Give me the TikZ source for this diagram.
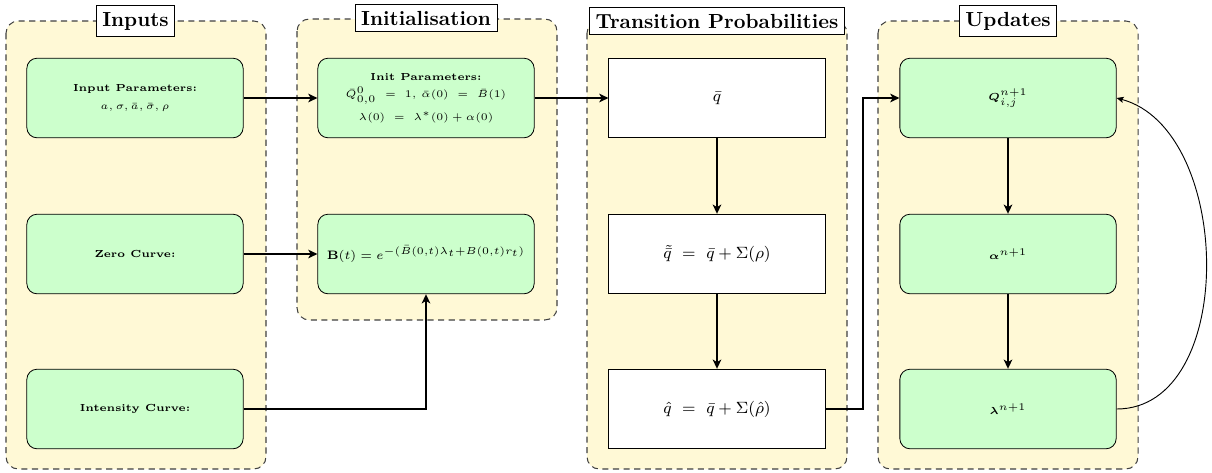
\documentclass[tikz,border=0pt]{standalone}
\usepackage{amsmath}
\usepackage{amssymb}
\usepackage{bm}
\usepackage{tikz}
\usetikzlibrary{arrows.meta}
\definecolor{stagefill}{RGB}{255,249,214}
\definecolor{stepfill}{RGB}{204,255,204}
\DeclareMathSizes{6}{6}{4.2}{3.5}

\begin{document}
\begin{tikzpicture}[x=0.49pt, y=-0.49pt,
		stage/.style={draw=black!75, line width=0.5pt, dash pattern=on 3pt off 2.2pt, fill=stagefill, rounded corners=6pt},
		stagetitle/.style={draw, fill=white, font=\bfseries, inner sep=3pt},
		greenbox/.style={draw, fill=stepfill, rounded corners=5pt, minimum width=106pt, minimum height=39pt, align=center, font=\tiny},
		probbox/.style={draw, fill=white, minimum width=106pt, minimum height=39pt, font=\footnotesize},
		flow/.style={line width=1pt, -{Stealth[length=4.5pt, width=4.2pt, inset=1.2pt]}},
		loopback/.style={line width=0.45pt, -{Stealth[length=3.5pt, width=3pt, inset=0.8pt]}}]
				\useasboundingbox (0,0) rectangle (1212,472);
				% the four stages
				\foreach \x/\t/\b in {6/21/469, 297/19/320, 587/21/469, 878/21/469} {
					\draw[stage] (\x,\t) rectangle ++(260,\b-\t);
				}

				% inputs
				\node[greenbox] (inparams) at (135,98) {\textbf{Input Parameters:}\\[3pt] $a, \sigma, \bar{a}, \bar{\sigma}, \rho$};
				\node[greenbox] (zero) at (135,254) {\textbf{Zero Curve:}};
				\node[greenbox] (intensity) at (135,409) {\textbf{Intensity Curve:}};

				% initialisation
				\node[greenbox] (initparams) at (426,98) {\textbf{Init Parameters:}\\[2.5pt] $\bar{Q}^{0}_{0,0} \ =\ 1,\, \bar{\alpha}(0) \ =\ \bar{B}(1)$\\[2.5pt] $\lambda(0) \ =\ \lambda^{*}(0) + \alpha(0)$};
				\node[greenbox, font=\fontsize{6}{7}\selectfont] (bond) at (426,254) {$\mathbf{B}(t) = e^{-(\bar{B}(0,t)\lambda_t + B(0,t) r_t)}$};

				% transition probabilities
				\node[probbox] (qbar) at (717,98) {$\bar{q}$};
				\node[probbox] (qtilde) at (717,254) {$\tilde{\bar{q}} \ =\ \bar{q} + \Sigma(\rho)$};
				\node[probbox] (qhat) at (717,409) {$\hat{q} \ =\ \bar{q} + \Sigma(\hat{\rho})$};

				% updates
				\node[greenbox] (Qnext) at (1008,98) {$\bm{Q}^{n+1}_{i,j}$};
				\node[greenbox] (alphanext) at (1008,254) {$\bm{\alpha}^{n+1}$};
				\node[greenbox] (lambdanext) at (1008,409) {$\bm{\lambda}^{n+1}$};

				\node[stagetitle] (tinputs) at (135.5,21) {Inputs};
				\node[stagetitle] (tinit) at (426,18) {Initialisation};
				\node[stagetitle] (ttrans) at (717,21) {Transition Probabilities};
				\node[stagetitle] (tupdates) at (1008,21) {Updates};

				\draw[flow] (inparams) -- (initparams);
				\draw[flow] (zero) -- (bond);
				\draw[flow] (intensity.east) -| (bond.south);
				\draw[flow] (initparams) -- (qbar);
				\draw[flow] (qbar) -- (qtilde);
				\draw[flow] (qtilde) -- (qhat);
				\coordinate (relay) at (863,409);
				\draw[flow] (qhat.east) -- (relay) |- (Qnext.west);
				\draw[flow] (Qnext) -- (alphanext);
				\draw[flow] (alphanext) -- (lambdanext);
				\draw[loopback] (lambdanext.east) to[out=0, in=-15] (Qnext.east);

			\end{tikzpicture}
\end{document}
